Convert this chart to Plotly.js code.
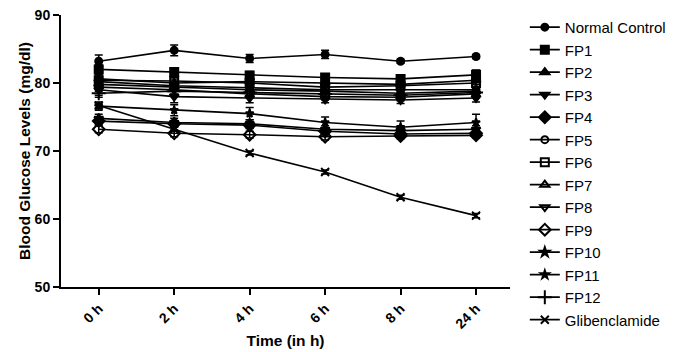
<!DOCTYPE html>
<html>
<head>
<meta charset="utf-8">
<script src="https://cdn.plot.ly/plotly-3.0.1.min.js"></script>
<style>html,body{margin:0;padding:0;background:#fff;}#chart{width:683px;height:352px;}</style>
</head>
<body>
<div id="chart"></div>
<script>
var timeLabels = ["0 h", "2 h", "4 h", "6 h", "8 h", "24 h"];
var seriesNames = ["Normal Control", "FP1", "FP2", "FP3", "FP4", "FP5", "FP6", "FP7", "FP8", "FP9", "FP10", "FP11", "FP12", "Glibenclamide"];

var normalControl = [83.2, 84.8, 83.6, 84.2, 83.2, 83.9];
var fp1  = [82.0, 81.6, 81.1, 80.8, 80.6, 81.2];
var fp2  = [80.6, 80.0, 80.2, 80.0, 79.8, 80.4];
var fp3  = [79.0, 78.0, 77.8, 77.6, 77.5, 77.8];
var fp4  = [74.4, 74.0, 73.8, 72.9, 72.5, 72.6];
var fp5  = [80.2, 79.6, 79.3, 79.0, 79.0, 79.0];
var fp6  = [80.4, 80.3, 80.0, 79.4, 79.6, 80.0];
var fp7  = [79.8, 79.4, 79.0, 78.8, 78.5, 78.8];
var fp8  = [79.4, 79.0, 78.4, 78.0, 77.9, 78.4];
var fp9  = [73.2, 72.6, 72.4, 72.1, 72.2, 72.3];
var fp10 = [74.8, 74.2, 74.0, 73.2, 73.0, 73.2];
var fp11 = [76.6, 76.0, 75.5, 74.2, 73.5, 74.2];
var fp12 = [78.5, 78.8, 78.6, 78.4, 78.2, 78.6];
var glibenclamide = [76.7, 73.2, 69.7, 66.9, 63.2, 60.5];

var errNC   = [0.9, 0.8, 0.6, 0.6, 0.3, 0.3];
var errFP1  = [0.7, 0.6, 0.6, 0.5, 0.5, 0.7];
var errFP2  = [0.6, 0.6, 0.5, 0.5, 0.5, 0.6];
var errFP3  = [0.8, 0.9, 0.7, 0.5, 0.5, 0.6];
var errFP4  = [0.5, 0.5, 0.5, 0.5, 0.5, 0.5];
var errFP5  = [0.6, 0.5, 0.5, 0.5, 0.5, 0.5];
var errFP6  = [0.6, 0.6, 0.5, 0.5, 0.5, 0.5];
var errFP7  = [0.6, 0.5, 0.5, 0.5, 0.5, 0.5];
var errFP8  = [0.6, 0.6, 0.6, 0.5, 0.5, 0.5];
var errFP9  = [0.5, 0.5, 0.5, 0.5, 0.4, 0.4];
var errFP10 = [0.6, 0.6, 0.6, 0.5, 0.5, 0.5];
var errFP11 = [0.6, 0.8, 0.9, 0.8, 0.9, 1.2];
var errFP12 = [0.6, 0.6, 0.6, 0.5, 0.5, 0.6];
var errGlib = [0.3, 0.3, 0.3, 0.3, 0.3, 0.3];

var allValues = [normalControl, fp1, fp2, fp3, fp4, fp5, fp6, fp7, fp8, fp9, fp10, fp11, fp12, glibenclamide];
var allErrors = [errNC, errFP1, errFP2, errFP3, errFP4, errFP5, errFP6, errFP7, errFP8, errFP9, errFP10, errFP11, errFP12, errGlib];
var symbols = ["circle", "square", "triangle-up", "triangle-down", "diamond", "circle-open", "square-open", "triangle-up-open", "triangle-down-open", "diamond-open", "star", "star-open", "cross-thin-open", "x-thin-open"];
var sizes = [7, 8, 8, 8, 9, 7, 8, 8, 8, 9, 7, 6, 10, 8];

var traces = seriesNames.map(function (name, i) {
  return {
    type: "scatter",
    mode: "lines+markers",
    name: name,
    x: timeLabels,
    y: allValues[i],
    line: {color: "#000", width: 1.6},
    marker: {symbol: symbols[i], size: sizes[i], color: "#000", line: {color: "#000", width: 2}},
    error_y: {type: "data", array: allErrors[i], visible: true, color: "#000", thickness: 1.5, width: 4}
  };
});

var layout = {
  width: 683, height: 352,
  margin: {l: 61, r: 173, t: 15, b: 65, autoexpand: false},
  paper_bgcolor: "#fff", plot_bgcolor: "#fff",
  font: {family: "Liberation Sans, Arial, sans-serif", color: "#000"},
  showlegend: true,
  legend: {
    x: 1.033, xanchor: "left", y: 1.015, yanchor: "top",
    maxheight: 345,
    font: {size: 15, color: "#000", family: "Liberation Sans, Arial, sans-serif"},
    bgcolor: "rgba(0,0,0,0)", borderwidth: 0, tracegroupgap: 0
  },
  xaxis: {
    type: "category",
    range: [-0.5, 5.45],
    automargin: false,
    showgrid: false, zeroline: false,
    showline: true, linecolor: "#000", linewidth: 2,
    ticks: "outside", ticklen: 6, tickwidth: 2, tickcolor: "#000",
    tickangle: -45,
    tickfont: {size: 14, family: "Liberation Sans, Arial, sans-serif", weight: "bold", color: "#000"},
    title: {text: "<b>Time (in h)</b>", font: {size: 15.5, color: "#000"}, standoff: 4}
  },
  yaxis: {
    range: [50, 90],
    automargin: false,
    tickvals: [50, 60, 70, 80, 90],
    showgrid: false, zeroline: false,
    showline: true, linecolor: "#000", linewidth: 2,
    ticks: "outside", ticklen: 6, tickwidth: 2, tickcolor: "#000",
    tickfont: {size: 14, family: "Liberation Sans, Arial, sans-serif", weight: "bold", color: "#000"},
    title: {text: "<b>Blood Glucose Levels (mg/dl)</b>", font: {size: 15.5, color: "#000"}, standoff: 0}
  }
};

Plotly.newPlot("chart", traces, layout, {displayModeBar: false, staticPlot: true});
</script>
</body>
</html>
